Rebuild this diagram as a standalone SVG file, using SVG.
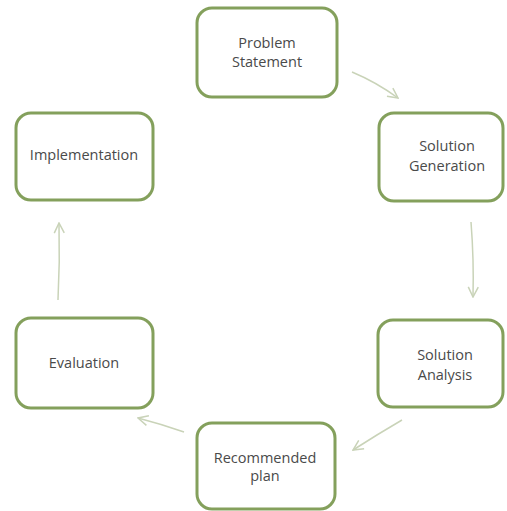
<svg xmlns="http://www.w3.org/2000/svg" width="507" height="511" viewBox="0 0 507 511">
<style>
.box{fill:#ffffff;stroke:#84a05c;stroke-width:3}
.lbl{font-family:"Open Sans","Liberation Sans",sans-serif;font-size:14.5px;fill:#4a4a4a;text-anchor:middle}
.con{fill:none;stroke:#c9d3b8;stroke-width:1.5}
</style>
<defs>
<marker id="ah" viewBox="0 0 12 12" refX="11" refY="6" markerWidth="12" markerHeight="12" markerUnits="userSpaceOnUse" orient="auto">
<path d="M1,1 L11,6 L1,11" fill="none" stroke="#c9d3b8" stroke-width="1.5"/>
</marker>
</defs>
<rect width="507" height="511" fill="#ffffff"/>
<g id="connectors">
<path class="con" d="M352,72 Q376,82 398,98" marker-end="url(#ah)"/>
<path class="con" d="M471,222 Q474,260 473,297" marker-end="url(#ah)"/>
<path class="con" d="M402,420 Q378,434 353,450" marker-end="url(#ah)"/>
<path class="con" d="M184,432 Q161,424 138,418" marker-end="url(#ah)"/>
<path class="con" d="M58,300 Q60,262 59,223" marker-end="url(#ah)"/>
</g>
<g id="problem-statement">
<rect class="box" x="197" y="8" width="140" height="89" rx="15"/>
<text class="lbl" x="267" y="48">Problem</text>
<text class="lbl" x="267" y="67">Statement</text>
</g>
<g id="solution-generation">
<rect class="box" x="379" y="113" width="124" height="88" rx="15"/>
<text class="lbl" x="447" y="151">Solution</text>
<text class="lbl" x="447" y="171">Generation</text>
</g>
<g id="solution-analysis">
<rect class="box" x="378" y="320" width="125" height="87" rx="15"/>
<text class="lbl" x="445" y="360">Solution</text>
<text class="lbl" x="445" y="380">Analysis</text>
</g>
<g id="recommended-plan">
<rect class="box" x="197" y="423" width="138" height="86" rx="15"/>
<text class="lbl" x="265" y="463">Recommended</text>
<text class="lbl" x="265" y="481">plan</text>
</g>
<g id="evaluation">
<rect class="box" x="16" y="318" width="137" height="90" rx="15"/>
<text class="lbl" x="84" y="368">Evaluation</text>
</g>
<g id="implementation">
<rect class="box" x="16" y="113" width="137" height="87" rx="15"/>
<text class="lbl" x="84" y="160">Implementation</text>
</g>
</svg>
